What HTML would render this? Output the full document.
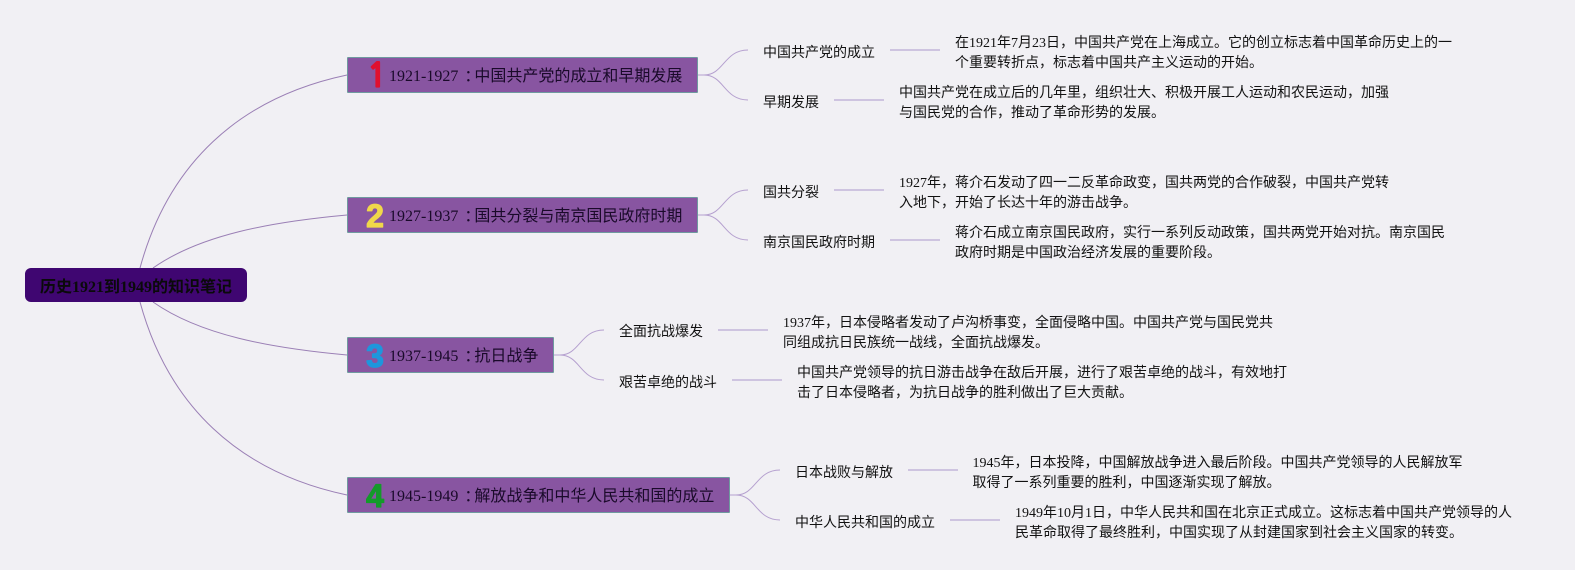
<!DOCTYPE html>
<html lang="zh"><head><meta charset="utf-8"><title>历史1921到1949的知识笔记</title>
<style>
html,body{margin:0;padding:0;width:1575px;height:570px;overflow:hidden;background:#f1f0f4}
body{position:relative;font-family:"Liberation Serif","WenQuanYi Zen Hei","Noto Sans CJK SC",serif;color:#111}
svg{position:absolute;left:0;top:0}
.t{position:absolute;white-space:nowrap;font-size:14px;line-height:20px}
.b{position:absolute;left:346.5px;height:35.5px;background:#8855a1;border:1px solid #6f9a9f;box-sizing:border-box;border-radius:1px}
.h{position:absolute;white-space:nowrap;font-size:16px;line-height:20px;left:389px;color:#1a0a2a}
.h span{display:inline-block;position:relative;left:6px}
</style></head><body>
<svg width="1575" height="570" fill="none">
<g stroke="#9a7fb5" stroke-width="1">
<path d="M140 268C168 165 238 98 347 75"/>
<path d="M153 268C200 235 270 222 347 215"/>
<path d="M153 302C200 335 270 348 347 355"/>
<path d="M140 302C168 405 238 472 347 495"/>
</g>
<g stroke="#b5a0cf" stroke-width="1">
<path d="M698 75H704C724 75 724 50 748 50"/>
<path d="M698 75H704C724 75 724 100 748 100"/>
<path d="M698 215H704C724 215 724 190 748 190"/>
<path d="M698 215H704C724 215 724 240 748 240"/>
<path d="M554 355H560C580 355 580 330 604 330"/>
<path d="M554 355H560C580 355 580 380 604 380"/>
<path d="M730 495H736C756 495 756 470 780 470"/>
<path d="M730 495H736C756 495 756 520 780 520"/>
</g>
<g stroke="#c3b6da" stroke-width="1.5">
<path d="M890 50H940M834 100H884M834 190H884M890 240H940M718 330H768M732 380H782M908 470H958M950 520H1000" />
</g>
</svg>

<div style="position:absolute;left:25px;top:268px;width:222px;height:34px;background:#3f0671;border-radius:6px"></div>
<div class="t" style="left:40px;top:278px;font-size:16px;font-weight:bold;color:#0a0a0a">历史1921到1949的知识笔记</div>

<div class="b" style="top:57.3px;width:351.5px"></div>
<div class="b" style="top:197.3px;width:351.5px"></div>
<div class="b" style="top:337.3px;width:207.5px"></div>
<div class="b" style="top:477.3px;width:383.5px"></div>

<svg width="1575" height="570" style="font-family:'Liberation Sans',sans-serif;font-weight:bold;font-size:32px" text-anchor="middle" stroke-width="1.2" stroke-linejoin="round">
<text x="377" y="87" fill="#e0102f" stroke="#e0102f" style="font-family:'NanumGothic',sans-serif;font-size:33px">1</text>
<text x="375" y="227" fill="#f0d84a" stroke="#f0d84a">2</text>
<text x="375" y="367" fill="#1e96dc" stroke="#1e96dc">3</text>
<text x="375" y="507" fill="#149a2a" stroke="#149a2a">4</text>
</svg>

<div class="h" style="top:67px">1921-1927<span>：</span>中国共产党的成立和早期发展</div>
<div class="h" style="top:207px">1927-1937<span>：</span>国共分裂与南京国民政府时期</div>
<div class="h" style="top:347px">1937-1945<span>：</span>抗日战争</div>
<div class="h" style="top:487px">1945-1949<span>：</span>解放战争和中华人民共和国的成立</div>

<div class="t" style="left:763px;top:44px">中国共产党的成立</div>
<div class="t" style="left:763px;top:94px">早期发展</div>
<div class="t" style="left:763px;top:184px">国共分裂</div>
<div class="t" style="left:763px;top:234px">南京国民政府时期</div>
<div class="t" style="left:619px;top:323px">全面抗战爆发</div>
<div class="t" style="left:619px;top:374px">艰苦卓绝的战斗</div>
<div class="t" style="left:795px;top:464px">日本战败与解放</div>
<div class="t" style="left:795px;top:514px">中华人民共和国的成立</div>

<div class="t" style="left:955px;top:34px">在1921年7月23日，中国共产党在上海成立。它的创立标志着中国革命历史上的一<br>个重要转折点，标志着中国共产主义运动的开始。</div>
<div class="t" style="left:899px;top:84px">中国共产党在成立后的几年里，组织壮大、积极开展工人运动和农民运动，加强<br>与国民党的合作，推动了革命形势的发展。</div>
<div class="t" style="left:899px;top:174px">1927年，蒋介石发动了四一二反革命政变，国共两党的合作破裂，中国共产党转<br>入地下，开始了长达十年的游击战争。</div>
<div class="t" style="left:955px;top:224px">蒋介石成立南京国民政府，实行一系列反动政策，国共两党开始对抗。南京国民<br>政府时期是中国政治经济发展的重要阶段。</div>
<div class="t" style="left:783px;top:314px">1937年，日本侵略者发动了卢沟桥事变，全面侵略中国。中国共产党与国民党共<br>同组成抗日民族统一战线，全面抗战爆发。</div>
<div class="t" style="left:797px;top:364px">中国共产党领导的抗日游击战争在敌后开展，进行了艰苦卓绝的战斗，有效地打<br>击了日本侵略者，为抗日战争的胜利做出了巨大贡献。</div>
<div class="t" style="left:972.5px;top:454px">1945年，日本投降，中国解放战争进入最后阶段。中国共产党领导的人民解放军<br>取得了一系列重要的胜利，中国逐渐实现了解放。</div>
<div class="t" style="left:1015px;top:504px">1949年10月1日，中华人民共和国在北京正式成立。这标志着中国共产党领导的人<br>民革命取得了最终胜利，中国实现了从封建国家到社会主义国家的转变。</div>
</body></html>
